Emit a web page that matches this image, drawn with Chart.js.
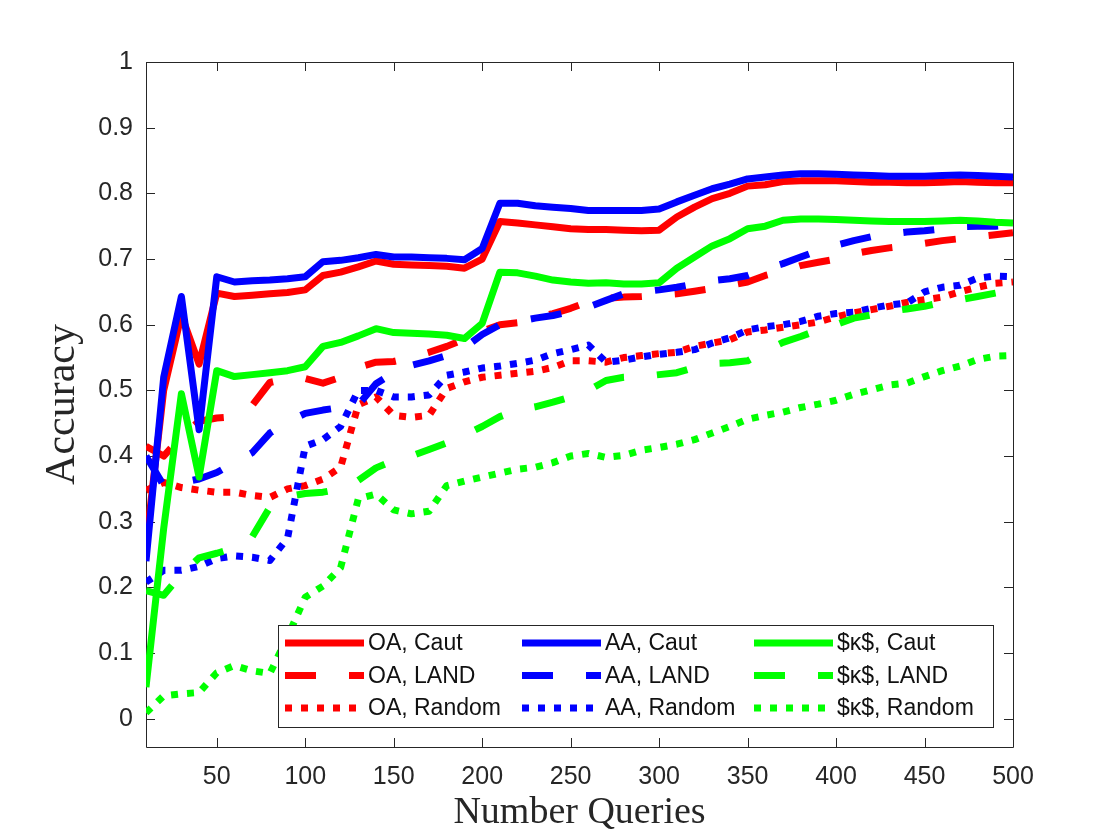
<!DOCTYPE html>
<html>
<head>
<meta charset="utf-8">
<title>Accuracy vs Number Queries</title>
<script src="https://cdn.jsdelivr.net/npm/chart.js@4.4.1/dist/chart.umd.min.js"></script>
<style>
    body { margin: 0; background: #ffffff; }
    canvas { display: block; }
</style>
</head>
<body>
<canvas id="lineChart" width="1120" height="840"></canvas>
<script>
// number of queries on the x axis
const queries = [10, 20, 30, 40, 50, 60, 70, 80, 90, 100,
    110, 120, 130, 140, 150, 160, 170, 180, 190, 200,
    210, 220, 230, 240, 250, 260, 270, 280, 290, 300,
    310, 320, 330, 340, 350, 360, 370, 380, 390, 400,
    410, 420, 430, 440, 450, 460, 470, 480, 490, 500];

// overall accuracy
const oaCaut = [0.265, 0.50, 0.615, 0.54, 0.648, 0.643, 0.645, 0.647, 0.649, 0.653,
    0.675, 0.68, 0.688, 0.697, 0.692, 0.691, 0.690, 0.689, 0.686, 0.70,
    0.757, 0.755, 0.752, 0.749, 0.746, 0.745, 0.745, 0.744, 0.743, 0.744,
    0.764, 0.779, 0.792, 0.80, 0.811, 0.813, 0.818, 0.819, 0.819, 0.819,
    0.818, 0.817, 0.817, 0.816, 0.816, 0.817, 0.818, 0.817, 0.816, 0.816];
const oaLand = [0.415, 0.40, 0.43, 0.453, 0.458, 0.46, 0.477, 0.512, 0.518, 0.518,
    0.511, 0.52, 0.535, 0.543, 0.544, 0.55, 0.558, 0.567, 0.578, 0.59,
    0.60, 0.603, 0.61, 0.617, 0.625, 0.635, 0.64, 0.642, 0.643, 0.645,
    0.647, 0.651, 0.655, 0.66, 0.665, 0.675, 0.682, 0.69, 0.695, 0.70,
    0.708, 0.713, 0.717, 0.72, 0.724, 0.728, 0.731, 0.734, 0.737, 0.74];
const oaRandom = [0.348, 0.36, 0.352, 0.348, 0.345, 0.345, 0.34, 0.337, 0.35, 0.355,
    0.365, 0.383, 0.478, 0.49, 0.462, 0.459, 0.462, 0.503, 0.513, 0.52,
    0.523, 0.526, 0.529, 0.535, 0.545, 0.545, 0.543, 0.55, 0.553, 0.556,
    0.558, 0.567, 0.572, 0.577, 0.589, 0.592, 0.596, 0.60, 0.604, 0.612,
    0.618, 0.623, 0.628, 0.634, 0.638, 0.642, 0.65, 0.657, 0.663, 0.665];

// average accuracy
const aaCaut = [0.24, 0.52, 0.643, 0.44, 0.673, 0.665, 0.667, 0.668, 0.67, 0.673,
    0.696, 0.698, 0.702, 0.707, 0.703, 0.703, 0.702, 0.701, 0.699, 0.716,
    0.785, 0.785, 0.781, 0.779, 0.777, 0.774, 0.774, 0.774, 0.774, 0.776,
    0.787, 0.797, 0.807, 0.814, 0.822, 0.825, 0.828, 0.83, 0.83, 0.829,
    0.828, 0.827, 0.826, 0.826, 0.826, 0.827, 0.828, 0.827, 0.826, 0.825];
const aaLand = [0.40, 0.355, 0.36, 0.365, 0.375, 0.39, 0.405, 0.435, 0.452, 0.465,
    0.47, 0.474, 0.478, 0.51, 0.527, 0.538, 0.545, 0.553, 0.565, 0.585,
    0.60, 0.605, 0.61, 0.614, 0.62, 0.627, 0.637, 0.647, 0.65, 0.653,
    0.657, 0.662, 0.667, 0.67, 0.675, 0.685, 0.693, 0.703, 0.713, 0.721,
    0.728, 0.734, 0.738, 0.741, 0.743, 0.746, 0.749, 0.75, 0.75, 0.752];
const aaRandom = [0.208, 0.226, 0.226, 0.232, 0.244, 0.248, 0.246, 0.241, 0.275, 0.415,
    0.425, 0.445, 0.50, 0.50, 0.49, 0.49, 0.493, 0.523, 0.528, 0.534,
    0.537, 0.541, 0.546, 0.556, 0.562, 0.569, 0.543, 0.546, 0.551, 0.555,
    0.558, 0.562, 0.572, 0.58, 0.592, 0.597, 0.60, 0.605, 0.613, 0.617,
    0.619, 0.625, 0.63, 0.633, 0.65, 0.657, 0.66, 0.671, 0.674, 0.673];

// kappa
const kCaut = [0.048, 0.29, 0.495, 0.368, 0.53, 0.521, 0.524, 0.527, 0.53, 0.536,
    0.567, 0.573, 0.583, 0.594, 0.588, 0.587, 0.586, 0.584, 0.579, 0.602,
    0.68, 0.679, 0.674, 0.668, 0.665, 0.663, 0.664, 0.662, 0.662, 0.664,
    0.686, 0.703, 0.72, 0.731, 0.746, 0.75, 0.759, 0.761, 0.761, 0.76,
    0.759, 0.758, 0.757, 0.757, 0.757, 0.758, 0.759, 0.758, 0.756, 0.755];
const kLand = [0.195, 0.188, 0.22, 0.245, 0.252, 0.26, 0.277, 0.322, 0.338, 0.343,
    0.345, 0.35, 0.363, 0.382, 0.393, 0.40, 0.41, 0.42, 0.432, 0.445,
    0.46, 0.47, 0.475, 0.482, 0.49, 0.50, 0.515, 0.52, 0.521, 0.524,
    0.527, 0.535, 0.541, 0.542, 0.545, 0.56, 0.573, 0.582, 0.592, 0.60,
    0.61, 0.615, 0.62, 0.624, 0.628, 0.634, 0.638, 0.643, 0.648, 0.653];
const kRandom = [0.009, 0.035, 0.038, 0.04, 0.07, 0.081, 0.073, 0.069, 0.125, 0.185,
    0.202, 0.23, 0.335, 0.342, 0.318, 0.312, 0.316, 0.355, 0.362, 0.368,
    0.374, 0.38, 0.383, 0.39, 0.40, 0.404, 0.398, 0.401, 0.409, 0.413,
    0.418, 0.425, 0.435, 0.445, 0.456, 0.462, 0.467, 0.474, 0.479, 0.485,
    0.494, 0.501, 0.508, 0.511, 0.521, 0.53, 0.537, 0.547, 0.552, 0.553];

// tick values and labels
const xTicks = [50, 100, 150, 200, 250, 300, 350, 400, 450, 500];
const yTicks = [0, 0.1, 0.2, 0.3, 0.4, 0.5, 0.6, 0.7, 0.8, 0.9, 1];
const yTickLabels = ['0', '0.1', '0.2', '0.3', '0.4', '0.5', '0.6', '0.7', '0.8', '0.9', '1'];

const axisColor = '#262626';
const solid = [];
const dashed = [31, 33];
const dotted = [7, 9];

/**
 * build one line dataset from a list of values
 */
function makeSet (label, values, color, dash) {
    return {
        label: label,
        data: queries.map((q, i) => ({ x: q, y: values[i] })),
        borderColor: color,
        backgroundColor: color,
        borderWidth: 7,
        borderDash: dash,
        borderCapStyle: 'butt',
        borderJoinStyle: 'round',
        pointRadius: 0,
        pointHoverRadius: 0,
        fill: false,
        tension: 0
    };
}

// same order as the plot: later lines are drawn on top
const datasets = [
    makeSet('OA, Caut', oaCaut, '#ff0000', solid),
    makeSet('OA, LAND', oaLand, '#ff0000', dashed),
    makeSet('OA, Random', oaRandom, '#ff0000', dotted),
    makeSet('AA, Caut', aaCaut, '#0000ff', solid),
    makeSet('AA, LAND', aaLand, '#0000ff', dashed),
    makeSet('AA, Random', aaRandom, '#0000ff', dotted),
    makeSet('$κ$, Caut', kCaut, '#00ff00', solid),
    makeSet('$κ$, LAND', kLand, '#00ff00', dashed),
    makeSet('$κ$, Random', kRandom, '#00ff00', dotted)
];
datasets.forEach((ds, i) => { ds.order = datasets.length - i; });

// box round the plot with inward ticks on all four sides
const boxAxes = {
    id: 'boxAxes',
    beforeDatasetsDraw (chart) {
        const { ctx, chartArea: a, scales: { x, y } } = chart;
        const len = 9;
        ctx.save();
        ctx.strokeStyle = axisColor;
        ctx.lineWidth = 1;
        ctx.beginPath();
        ctx.rect(a.left + 0.5, a.top + 0.5, a.right - a.left, a.bottom - a.top);
        xTicks.forEach(v => {
            const px = Math.round(x.getPixelForValue(v)) + 0.5;
            ctx.moveTo(px, a.bottom);
            ctx.lineTo(px, a.bottom - len);
            ctx.moveTo(px, a.top);
            ctx.lineTo(px, a.top + len);
        });
        yTicks.forEach(v => {
            const py = Math.round(y.getPixelForValue(v)) + 0.5;
            ctx.moveTo(a.left, py);
            ctx.lineTo(a.left + len, py);
            ctx.moveTo(a.right, py);
            ctx.lineTo(a.right - len, py);
        });
        ctx.stroke();
        ctx.restore();
    }
};

// legend inside the lower right corner, filled column by column
const boxLegend = {
    id: 'boxLegend',
    afterDatasetsDraw (chart) {
        const { ctx, chartArea: a } = chart;
        const right = a.right - 20;
        const bottom = a.bottom - 20;
        const left = right - 715;
        const top = bottom - 102;
        const colX = [left + 7, left + 244, left + 476];
        ctx.save();
        ctx.fillStyle = '#ffffff';
        ctx.fillRect(left, top, right - left, bottom - top);
        ctx.strokeStyle = axisColor;
        ctx.lineWidth = 1;
        ctx.strokeRect(left + 0.5, top + 0.5, right - left, bottom - top);
        chart.data.datasets.forEach((ds, i) => {
            const x0 = colX[Math.floor(i / 3)];
            const yy = top + 18 + (i % 3) * 32.5;
            ctx.strokeStyle = ds.borderColor;
            ctx.lineWidth = ds.borderWidth;
            ctx.lineCap = 'butt';
            ctx.setLineDash(ds.borderDash);
            ctx.beginPath();
            ctx.moveTo(x0, yy);
            ctx.lineTo(x0 + 79, yy);
            ctx.stroke();
            ctx.setLineDash([]);
            ctx.fillStyle = '#111111';
            ctx.font = '23px "Liberation Sans", Arial, sans-serif';
            ctx.textBaseline = 'middle';
            ctx.fillText(ds.label, x0 + 83, yy + 1);
        });
        ctx.restore();
    }
};

const tickFont = { family: '"Liberation Sans", Arial, sans-serif', size: 25 };

const config = {
    type: 'line',
    data: { datasets: datasets },
    options: {
        responsive: false,
        animation: false,
        events: [],
        layout: {
            padding: { left: 0, right: 107, top: 62, bottom: 0 }
        },
        plugins: {
            legend: { display: false },
            tooltip: { enabled: false }
        },
        scales: {
            x: {
                type: 'linear',
                min: 10,
                max: 500,
                grid: { display: false, drawTicks: false },
                border: { display: false },
                afterBuildTicks: scale => { scale.ticks = xTicks.map(v => ({ value: v })); },
                afterFit: scale => { scale.height = 93; },
                ticks: {
                    font: tickFont,
                    color: axisColor,
                    padding: 15,
                    maxRotation: 0,
                    autoSkip: false,
                    callback: v => String(v)
                },
                title: {
                    display: true,
                    text: 'Number Queries',
                    color: axisColor,
                    font: { family: '"Liberation Serif", "Times New Roman", serif', size: 38 },
                    padding: { top: 0, bottom: 4 }
                }
            },
            y: {
                type: 'linear',
                min: -0.043,
                max: 1,
                grid: { display: false, drawTicks: false },
                border: { display: false },
                afterBuildTicks: scale => { scale.ticks = yTicks.map(v => ({ value: v })); },
                afterFit: scale => { scale.width = 146; },
                ticks: {
                    font: tickFont,
                    color: axisColor,
                    padding: 13,
                    autoSkip: false,
                    callback: (v, i) => yTickLabels[i]
                },
                title: {
                    display: true,
                    text: 'Accuracy',
                    color: axisColor,
                    font: { family: '"Liberation Serif", "Times New Roman", serif', size: 42 },
                    padding: { top: 38, bottom: 0 }
                }
            }
        }
    },
    plugins: [boxAxes, boxLegend]
};

// draw the chart
const myChart = new Chart(
    document.getElementById('lineChart'),
    config
);
</script>
</body>
</html>
